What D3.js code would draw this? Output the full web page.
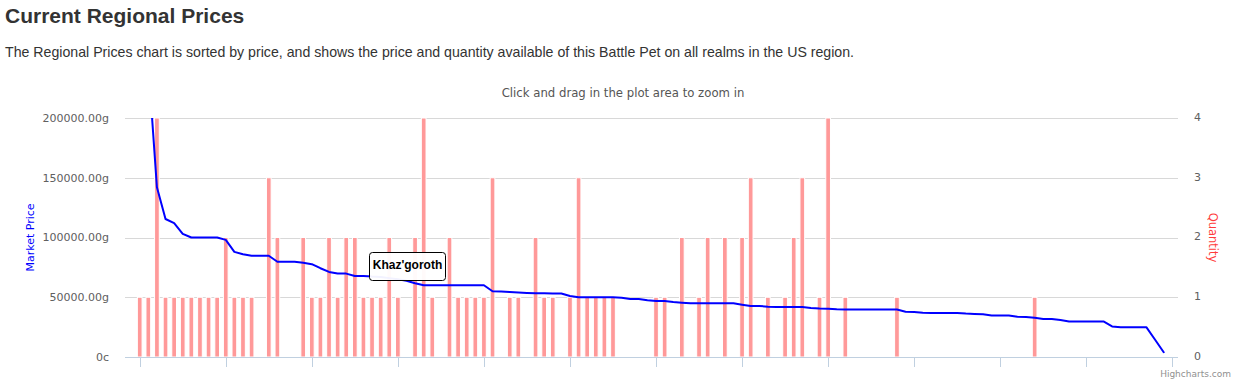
<!DOCTYPE html>
<html>
<head>
<meta charset="utf-8">
<script src="https://cdn.jsdelivr.net/npm/d3@7/dist/d3.min.js"></script>
<style>
  html, body { margin: 0; padding: 0; background: #fff; }
  svg { display: block; }
</style>
</head>
<body>
<svg id="chart" width="1254" height="386"></svg>
<script>
// ---------- DATA ----------
const pageTitle = "Current Regional Prices";
const pageText = "The Regional Prices chart is sorted by price, and shows the price and quantity available of this Battle Pet on all realms in the US region.";
const subtitleText = "Click and drag in the plot area to zoom in";
const leftAxisTitle = "Market Price";
const rightAxisTitle = "Quantity";
const creditText = "Highcharts.com";
const tooltipLabel = "Khaz'goroth";
const tooltipIndex = 37;

// market price in gold, one per realm (sorted by price)
const marketPrice = [
  400000, 245000, 142000, 115500, 112000, 103000, 100000, 100000, 100000, 100000,
  98000, 88000, 86000, 84700, 84700, 84700, 79700, 79700, 79700, 78800,
  77700, 74300, 71200, 69800, 69800, 67800, 67800, 67300, 67000, 66000,
  65000, 63800, 61700, 60000, 60000, 60000, 60000, 60000, 60000, 60000,
  60000, 55000, 54800, 54400, 54000, 53600, 53300, 53300, 53100, 53100,
  51100, 50000, 50000, 50000, 50000, 50000, 49600, 48500, 48500, 47400,
  46900, 46900, 46000, 45500, 44900, 44900, 44900, 44900, 44900, 44900,
  43800, 42700, 42700, 42100, 41800, 41800, 41800, 41800, 41000, 40500,
  40300, 39900, 39700, 39700, 39700, 39700, 39700, 39700, 39700, 37900,
  37600, 37100, 36800, 36800, 36800, 36800, 36300, 36000, 35700, 34800,
  34800, 34800, 33700, 33400, 32900, 31800, 31800, 30900, 29800, 29800,
  29800, 29800, 29800, 25600, 24800, 24800, 24800, 24800, 14400, 4000
];
// quantity available, one per realm
const quantity = [
  1, 1, 4, 1, 1, 1, 1, 1, 1, 1,
  2, 1, 1, 1, 0, 3, 2, 0, 0, 2,
  1, 1, 2, 1, 2, 2, 1, 1, 1, 2,
  1, 0, 2, 4, 1, 0, 2, 1, 1, 1,
  1, 3, 0, 1, 1, 0, 2, 1, 1, 0,
  1, 3, 1, 1, 1, 1, 0, 0, 0, 0,
  1, 1, 0, 2, 0, 1, 2, 0, 2, 0,
  2, 3, 0, 1, 0, 1, 2, 3, 0, 1,
  4, 0, 1, 0, 0, 0, 0, 0, 1, 0,
  0, 0, 0, 0, 0, 0, 0, 0, 0, 0,
  0, 0, 0, 0, 1, 0, 0, 0, 0, 0,
  0, 0, 0, 0, 0, 0, 0, 0, 0, 0
];
const priceTicks = [0, 50000, 100000, 150000, 200000];
const priceTickLabels = ["0c", "50000.00g", "100000.00g", "150000.00g", "200000.00g"];
const quantityTicks = [0, 1, 2, 3, 4];
const xTicks = [0, 10, 20, 30, 40, 50, 60, 70, 80, 90, 100, 110, 120];

// ---------- LAYOUT ----------
const svg = d3.select("#chart");
const plotLeft = 125, plotRight = 1178, plotTop = 118, plotBottom = 357;

const x = d3.scaleLinear().domain([-1.71, 120.66]).range([plotLeft, plotRight]);
const yPrice = d3.scaleLinear().domain([0, 200000]).range([plotBottom, plotTop]);
const yQty = d3.scaleLinear().domain([0, 4]).range([plotBottom, plotTop]);

// Header texts
svg.append("text").attr("x", 5).attr("y", 23)
  .attr("font-family", "'Liberation Sans', Arial, sans-serif")
  .attr("font-weight", "bold").attr("font-size", 21).attr("fill", "#333")
  .text(pageTitle);
svg.append("text").attr("x", 5).attr("y", 57)
  .attr("font-family", "'Liberation Sans', Arial, sans-serif")
  .attr("font-size", 14.17).attr("fill", "#333")
  .text(pageText);

const axisFont = "'DejaVu Sans', Verdana, sans-serif";

svg.append("text").attr("x", 623).attr("y", 93).attr("dy", "0.35em")
  .attr("text-anchor", "middle").attr("font-family", axisFont)
  .attr("font-size", 11.7).attr("fill", "#555")
  .text(subtitleText);

// Gridlines
svg.append("g").selectAll("line").data(priceTicks).join("line")
  .attr("x1", plotLeft).attr("x2", plotRight)
  .attr("y1", d => Math.round(yPrice(d)) + 0.5).attr("y2", d => Math.round(yPrice(d)) + 0.5)
  .attr("stroke", "#d8d8d8").attr("stroke-width", 1);

// Left axis labels
svg.append("g").selectAll("text").data(priceTicks).join("text")
  .attr("x", 109).attr("y", d => yPrice(d)).attr("dy", "0.35em")
  .attr("text-anchor", "end").attr("font-family", axisFont)
  .attr("font-size", 11).attr("fill", "#606060")
  .text((d, i) => priceTickLabels[i]);

// Right axis labels
svg.append("g").selectAll("text").data(quantityTicks).join("text")
  .attr("x", 1194).attr("y", d => yQty(d) - 1).attr("dy", "0.35em")
  .attr("text-anchor", "start").attr("font-family", axisFont)
  .attr("font-size", 11).attr("fill", "#606060")
  .text(d => d);

// Axis titles
svg.append("text")
  .attr("transform", `translate(30,${(plotTop + plotBottom) / 2}) rotate(-90)`)
  .attr("dy", "0.35em").attr("text-anchor", "middle")
  .attr("font-family", axisFont).attr("font-size", 11).attr("fill", "#0000ff")
  .text(leftAxisTitle);
svg.append("text")
  .attr("transform", `translate(1213,${(plotTop + plotBottom) / 2}) rotate(90)`)
  .attr("dy", "0.35em").attr("text-anchor", "middle")
  .attr("font-family", axisFont).attr("font-size", 11.5).attr("fill", "#ff3b3b")
  .text(rightAxisTitle);

// Columns (quantity)
const barW = 4.7;
svg.append("g").selectAll("rect").data(quantity.map((q, i) => ({ q, i })).filter(d => d.q > 0)).join("rect")
  .attr("x", d => x(d.i) - barW / 2)
  .attr("y", d => yQty(d.q))
  .attr("width", barW)
  .attr("height", d => yQty(0) - yQty(d.q))
  .attr("fill", "#ff9999")
  .attr("stroke", "#ffffff").attr("stroke-width", 1);

// Clip for line
svg.append("clipPath").attr("id", "plotClip").append("rect")
  .attr("x", plotLeft).attr("y", plotTop).attr("width", plotRight - plotLeft).attr("height", plotBottom - plotTop);

const line = d3.line().x((d, i) => x(i)).y(d => yPrice(d));
svg.append("path").datum(marketPrice)
  .attr("clip-path", "url(#plotClip)")
  .attr("d", line)
  .attr("fill", "none").attr("stroke", "#0000ff").attr("stroke-width", 2)
  .attr("stroke-linejoin", "round").attr("stroke-linecap", "round");

// X axis line and ticks
svg.append("line").attr("x1", plotLeft).attr("x2", plotRight)
  .attr("y1", plotBottom + 0.5).attr("y2", plotBottom + 0.5)
  .attr("stroke", "#c0d0e0").attr("stroke-width", 1);
svg.append("g").selectAll("line").data(xTicks).join("line")
  .attr("x1", d => Math.round(x(d)) + 0.5).attr("x2", d => Math.round(x(d)) + 0.5)
  .attr("y1", plotBottom).attr("y2", plotBottom + 10)
  .attr("stroke", "#c0d0e0").attr("stroke-width", 1);

// Tooltip
const tipX = x(tooltipIndex), tipY = yPrice(marketPrice[tooltipIndex]);
const tipW = 76, tipH = 28;
const tipLeft = Math.round(tipX - 13 - tipW) + 0.5, tipTop = Math.round(tipY - 33) + 0.5;
const tip = svg.append("g");
tip.append("rect").attr("x", tipLeft).attr("y", tipTop).attr("width", tipW).attr("height", tipH)
  .attr("rx", 3).attr("fill", "rgba(255,255,255,0.95)").attr("stroke", "#000").attr("stroke-width", 1);
tip.append("text").attr("x", tipLeft + tipW / 2).attr("y", tipTop + 16)
  .attr("text-anchor", "middle")
  .attr("font-family", "'Liberation Sans', Arial, sans-serif").attr("font-weight", "bold")
  .attr("font-size", 12).attr("fill", "#000")
  .text(tooltipLabel);

// Credit
svg.append("text").attr("x", 1231).attr("y", 377).attr("text-anchor", "end")
  .attr("font-family", axisFont).attr("font-size", 9).attr("fill", "#909090")
  .text(creditText);
</script>
</body>
</html>
